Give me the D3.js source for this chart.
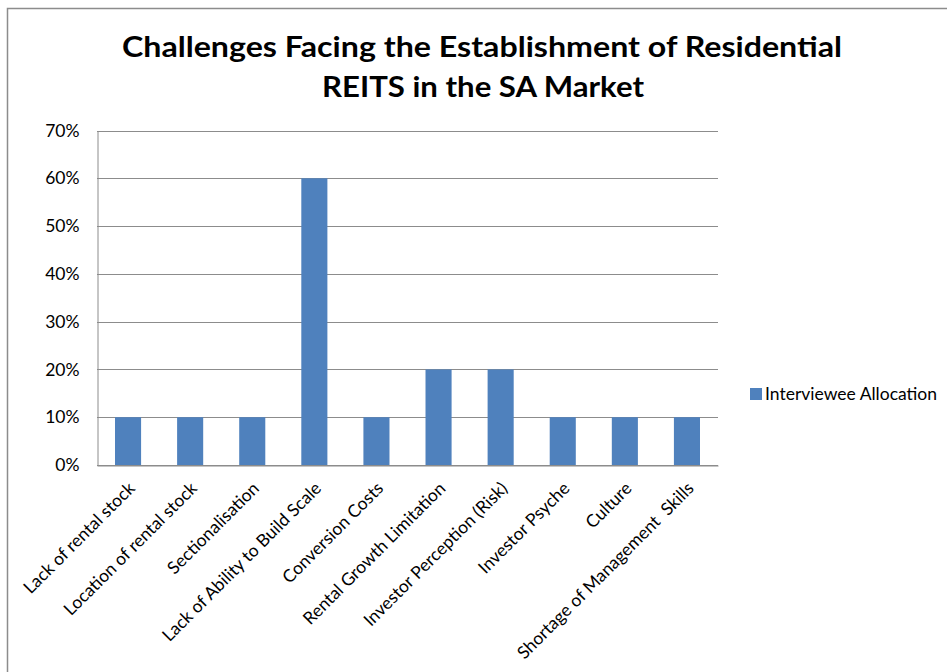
<!DOCTYPE html>
<html>
<head>
<meta charset="utf-8">
<script src="https://cdn.jsdelivr.net/npm/d3@7"></script>
<style>
  html, body { margin: 0; padding: 0; background: #fff; }
  svg { display: block; }
  text { font-family: Lato, "Open Sans", sans-serif; fill: #000; }
</style>
</head>
<body>
<script>
// Challenges and the share of interviewees that raised each one
const categories = [
  "Lack of rental stock",
  "Location of rental stock",
  "Sectionalisation",
  "Lack of Ability to Build Scale",
  "Conversion Costs",
  "Rental Growth Limitation",
  "Investor Perception (Risk)",
  "Investor Psyche",
  "Culture",
  "Shortage of Management  Skills"
];
const allocation = [0.10, 0.10, 0.10, 0.60, 0.10, 0.20, 0.20, 0.10, 0.10, 0.10];
const yTicks = [0, 0.1, 0.2, 0.3, 0.4, 0.5, 0.6, 0.7];
const seriesName = "Interviewee Allocation";
const titleLines = ["Challenges Facing the Establishment of Residential", "REITS in the SA Market"];

const W = 947, H = 672;
const plot = { left: 97, right: 718, top: 130.5, bottom: 465 };
const labelSize = 17.5;

const svg = d3.select("body").append("svg").attr("width", W).attr("height", H);

// outer chart frame
svg.append("rect")
  .attr("x", 7.5).attr("y", 8.5)
  .attr("width", W).attr("height", H)
  .attr("fill", "#fff").attr("stroke", "#8c8c8c").attr("stroke-width", 1.5);

// title
const title = svg.append("g");
title.append("text").attr("x", 482).attr("y", 57)
  .attr("text-anchor", "middle").attr("font-size", 28).attr("font-weight", 700)
  .attr("textLength", 720).attr("lengthAdjust", "spacingAndGlyphs")
  .text(titleLines[0]);
title.append("text").attr("x", 483).attr("y", 97)
  .attr("text-anchor", "middle").attr("font-size", 28).attr("font-weight", 700)
  .attr("textLength", 322).attr("lengthAdjust", "spacingAndGlyphs")
  .text(titleLines[1]);

const x = d3.scaleBand().domain(categories).range([plot.left, plot.right]).paddingInner(0.58).paddingOuter(0.29);
const y = d3.scaleLinear().domain([0, 0.7]).range([plot.bottom, plot.top]);

// gridlines
svg.append("g")
  .selectAll("line").data(yTicks).join("line")
  .attr("x1", plot.left).attr("x2", plot.right)
  .attr("y1", d => Math.round(y(d)) + 0.5).attr("y2", d => Math.round(y(d)) + 0.5)
  .attr("stroke", "#8c8c8c").attr("stroke-width", 1);

// y axis
const yAxis = svg.append("g").attr("transform", `translate(${plot.left + 0.5},0)`)
  .call(d3.axisLeft(y).tickValues(yTicks).tickFormat(d3.format(".0%")).tickSize(0).tickPadding(18));
yAxis.select(".domain").attr("stroke", "#8c8c8c");
yAxis.selectAll("text").attr("font-size", labelSize).attr("font-family", "Lato, sans-serif").attr("fill", "#000");

// bars
svg.append("g")
  .selectAll("rect").data(allocation).join("rect")
  .attr("x", (d, i) => x(categories[i]))
  .attr("width", x.bandwidth())
  .attr("y", d => y(d))
  .attr("height", d => y(0) - y(d))
  .attr("fill", "#4f81bd");

// x axis with rotated category labels
const xAxis = svg.append("g").attr("transform", `translate(0,${Math.round(plot.bottom) + 0.5})`)
  .call(d3.axisBottom(x).tickSize(0).tickPadding(0));
xAxis.select(".domain").attr("stroke", "#8c8c8c");
xAxis.selectAll(".tick text")
  .attr("font-size", labelSize).attr("font-family", "Lato, sans-serif").attr("fill", "#000")
  .attr("text-anchor", "end")
  .attr("dy", 0)
  .attr("transform", "translate(8,24) rotate(-45)")
  .attr("y", 0).attr("x", 0)
  .style("white-space", "pre");

// legend
const legend = svg.append("g").attr("transform", "translate(750,388)");
legend.append("rect").attr("width", 12).attr("height", 12).attr("fill", "#4f81bd");
legend.append("text").attr("x", 15).attr("y", 12).attr("font-size", labelSize).text(seriesName);
</script>
</body>
</html>
